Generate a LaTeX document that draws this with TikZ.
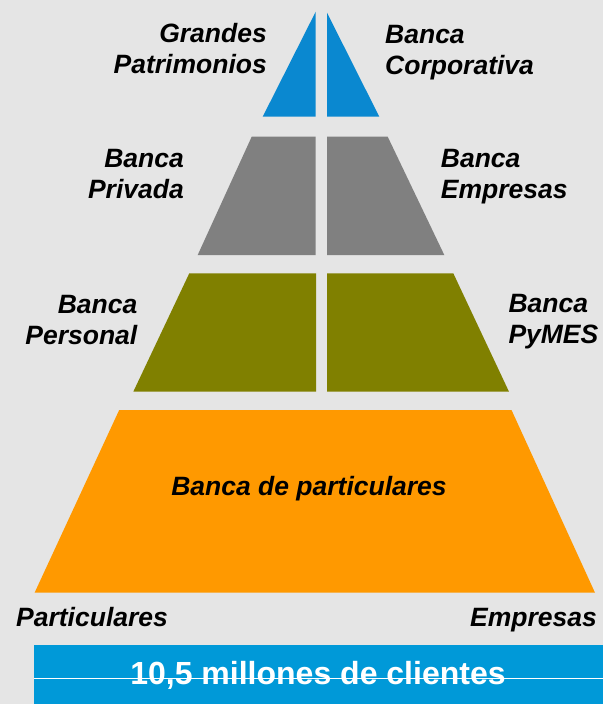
\documentclass[tikz,border=0pt]{standalone}
\usepackage{fontspec}
\setmainfont{Liberation Sans}
\definecolor{bg}{HTML}{E5E5E5}
\definecolor{topblue}{HTML}{0A88D0}
\definecolor{tiergray}{HTML}{808080}
\definecolor{tierolive}{HTML}{808000}
\definecolor{tierorange}{HTML}{FF9900}
\definecolor{barblue}{HTML}{0099D8}
\tikzset{
  lbl/.style={inner sep=0pt, align=left, font=\fontsize{26.5}{31}\selectfont\bfseries\itshape, text=black},
  lblr/.style={lbl, align=right},
  piece/.style={draw=none}
}
\begin{document}
\begin{tikzpicture}[x=1pt,y=-1pt]
\useasboundingbox (0,0) rectangle (603,704);
\fill[bg] (0,0) rectangle (603,704);
% top
\fill[topblue,piece] (262.7,116.7) -- (315.7,11.7) -- (315.7,116.7) -- cycle;
\fill[topblue,piece] (327,12.7) -- (379.3,116.7) -- (327,116.7) -- cycle;
% gray
\fill[tiergray,piece] (251.7,136.7) -- (315.7,136.7) -- (315.7,255) -- (197.7,255) -- cycle;
\fill[tiergray,piece] (327,136.7) -- (387.7,136.7) -- (444.3,255) -- (327,255) -- cycle;
% olive
\fill[tierolive,piece] (189.3,273.3) -- (316,273.3) -- (316,391.7) -- (133.3,391.7) -- cycle;
\fill[tierolive,piece] (327,273.3) -- (453.3,273.3) -- (509,391.7) -- (327,391.7) -- cycle;
% orange
\fill[tierorange,piece] (119.2,410) -- (511.5,410) -- (595,592.7) -- (34.6,592.7) -- cycle;
% bar
\fill[barblue] (33.8,645) rectangle (603,704);
\coordinate (lineA) at (33.8,678.5);
\coordinate (lineB) at (603,678.5);
\node[inner sep=0pt, anchor=base, text=white, font=\fontsize{32}{36}\selectfont\bfseries] (clientes) at (318,684.3) {10,5 millones de clientes};
\draw[white, line width=0.9pt] (lineA) -- (lineB);
% labels (base anchor = baseline of last line)
\node[lblr, anchor=base east] (gp) at (267,73.3) {Grandes\\Patrimonios};
\node[lbl, anchor=base west] (bc) at (385,74) {Banca\\Corporativa};
\node[lblr, anchor=base east] (bp) at (184,198.3) {Banca\\Privada};
\node[lbl, anchor=base west] (be) at (440.7,198) {Banca\\Empresas};
\node[lblr, anchor=base east] (bpe) at (137.5,344) {Banca\\Personal};
\node[lbl, anchor=base west] (bpy) at (508.3,343.3) {Banca\\PyMES};
\node[lbl, anchor=base] (bdp) at (309,495) {Banca de particulares};
\node[lbl, anchor=base west] (part) at (16,626) {Particulares};
\node[lblr, anchor=base east] (emp) at (597,626) {Empresas};
\end{tikzpicture}
\end{document}
